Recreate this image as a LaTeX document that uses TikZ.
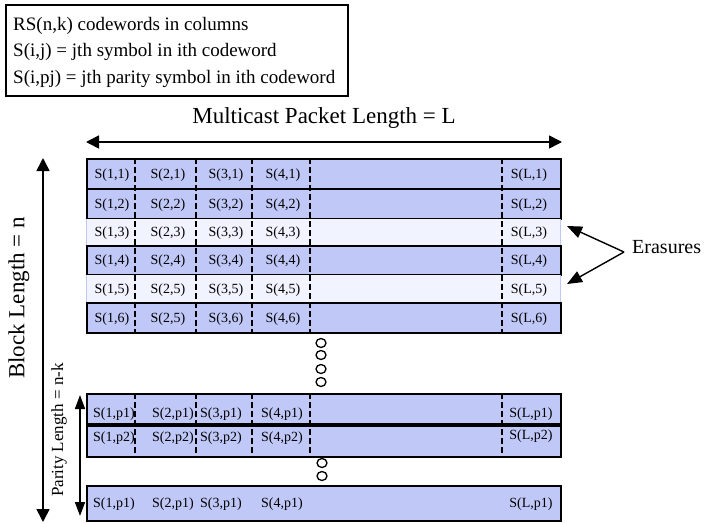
\documentclass[tikz,border=0pt]{standalone}
\usepackage{fontspec}
\setmainfont{Liberation Serif}
\usetikzlibrary{arrows.meta,shapes.geometric}
\definecolor{rowblue}{RGB}{192,200,248}
\definecolor{rowlight}{RGB}{241,243,254}
\begin{document}
\begin{tikzpicture}[x=1pt,y=-1pt,
  bluerow/.style={draw=black,line width=1.5pt,fill=rowblue,minimum width=474pt,inner sep=0pt,anchor=north west},
  lightrow/.style={draw=rowblue,line width=0.8pt,fill=rowlight,minimum width=474pt,inner sep=0pt,anchor=north west},
  sepline/.style={line width=1.6pt,dash pattern=on 6pt off 3pt},
  cell/.style={font=\fontsize{14}{14}\selectfont,inner sep=0pt},
  legtext/.style={font=\fontsize{19}{19}\selectfont,inner sep=0pt,anchor=base west},
  dotnode/.style={draw=black,line width=1.3pt,fill=white,ellipse,minimum width=10pt,minimum height=9pt,inner sep=0pt},
  dimarrow/.style={line width=1.6pt,{Triangle[length=13pt,width=13pt]}-{Triangle[length=13pt,width=13pt]}},
  smallarrow/.style={line width=1.6pt,{Triangle[length=14pt,width=10pt]}-{Triangle[length=14pt,width=10pt]}},
  erasearrow/.style={line width=1.4pt,-{Triangle[length=15pt,width=12pt]}}
]
\useasboundingbox (0,0) rectangle (711,523);

% legend
\node[draw,line width=1.5pt,minimum width=342pt,minimum height=91pt,inner sep=0pt,anchor=north west] (legend) at (5,4) {};
\node[legtext] (leg1) at (13,30) {RS(n,k) codewords in columns};
\node[legtext] (leg2) at (13,56) {S(i,j) = jth symbol in ith codeword};
\node[legtext] (leg3) at (13,83) {S(i,pj) = jth parity symbol in ith codeword};

% top dimension
\node[font=\fontsize{23}{23}\selectfont,inner sep=0pt,anchor=base] (mlabel) at (324,123) {Multicast Packet Length = L};
\coordinate (tl) at (86,142);
\coordinate (tr) at (562,142);
\draw[dimarrow] (tl) -- (tr);

% rows 1-6
\node[bluerow,minimum height=30pt] (r1) at (86,158) {};
\node[bluerow,minimum height=30pt] (r2) at (86,188) {};
\node[lightrow,minimum height=27pt] (r3) at (86,218) {};
\draw[line width=0.7pt] (r3.north west) -- (r3.north east);
\node[bluerow,minimum height=29pt] (r4) at (86,245) {};
\node[lightrow,minimum height=28pt] (r5) at (86,274) {};
\draw[line width=0.7pt] (r5.north west) -- (r5.north east);
\node[bluerow,minimum height=30pt] (r6) at (86,302) {};

\foreach \xx in {135,196,252,310,502}{
  \draw[sepline] (\xx,158) -- (\xx,332);
}

\foreach \yy/\lab [count=\i] in {175/1,205/2,233/3,261/4,290/5,319/6}{
  \node[cell] (c1\i) at (112,\yy) {S(1,\lab)};
  \node[cell] (c3\i) at (226,\yy) {S(3,\lab)};
  \node[cell] (c4\i) at (283,\yy) {S(4,\lab)};
  \node[cell] (cL\i) at (529,\yy) {S(L,\lab)};
}
\foreach \yy/\lab [count=\i] in {175/1,205/2,233/3,261/4,290/5,319/5}{
  \node[cell] (c2\i) at (168,\yy) {S(2,\lab)};
}

% dots
\node[dotnode] (d1) at (321,343) {};
\node[dotnode] (d2) at (321,355) {};
\node[dotnode] (d3) at (321,369) {};
\node[dotnode] (d4) at (321,382) {};

% parity rows
\node[bluerow,minimum height=30pt] (p1) at (86,393) {};
\node[bluerow,minimum height=31pt] (p2) at (86,425) {};
\foreach \xx in {135,196,252,310,502}{
  \draw[sepline] (\xx,393) -- (\xx,456);
}
\node[cell] (q11) at (114,414) {S(1,p1)};
\node[cell] (q21) at (173,414) {S(2,p1)};
\node[cell] (q31) at (221,414) {S(3,p1)};
\node[cell] (q41) at (282,414) {S(4,p1)};
\node[cell] (qL1) at (531,414) {S(L,p1)};
\node[cell] (q12) at (114,438) {S(1,p2)};
\node[cell] (q22) at (173,438) {S(2,p2)};
\node[cell] (q32) at (221,438) {S(3,p2)};
\node[cell] (q42) at (282,438) {S(4,p2)};
\node[cell] (qL2) at (531,436) {S(L,p2)};

\node[dotnode] (d5) at (322,463) {};
\node[dotnode] (d6) at (322,476) {};

\node[bluerow,minimum height=35pt] (pl) at (86,485) {};
\node[cell] (s1) at (114,504) {S(1,p1)};
\node[cell] (s2) at (173,504) {S(2,p1)};
\node[cell] (s3) at (221,504) {S(3,p1)};
\node[cell] (s4) at (282,504) {S(4,p1)};
\node[cell] (sL) at (531,504) {S(L,p1)};

% left dimensions
\coordinate (bt) at (43,158);
\coordinate (bb) at (43,522);
\draw[dimarrow] (bt) -- (bb);
\node[font=\fontsize{23}{23}\selectfont,inner sep=0pt,rotate=90] (blabel) at (19,298) {Block Length = n};
\coordinate (pt) at (80,395);
\coordinate (pb) at (80,516);
\draw[smallarrow] (pt) -- (pb);
\node[font=\fontsize{17}{17}\selectfont,inner sep=0pt,rotate=90] (plabel) at (59,430) {Parity Length = n-k};

% erasures
\node[font=\fontsize{20}{20}\selectfont,inner sep=0pt,anchor=west] (eras) at (632,247) {Erasures};
\coordinate (ev) at (624,252);
\coordinate (e3) at (567,226);
\coordinate (e5) at (567,284);
\draw[erasearrow] (ev) -- (e3);
\draw[erasearrow] (ev) -- (e5);
\end{tikzpicture}
\end{document}
